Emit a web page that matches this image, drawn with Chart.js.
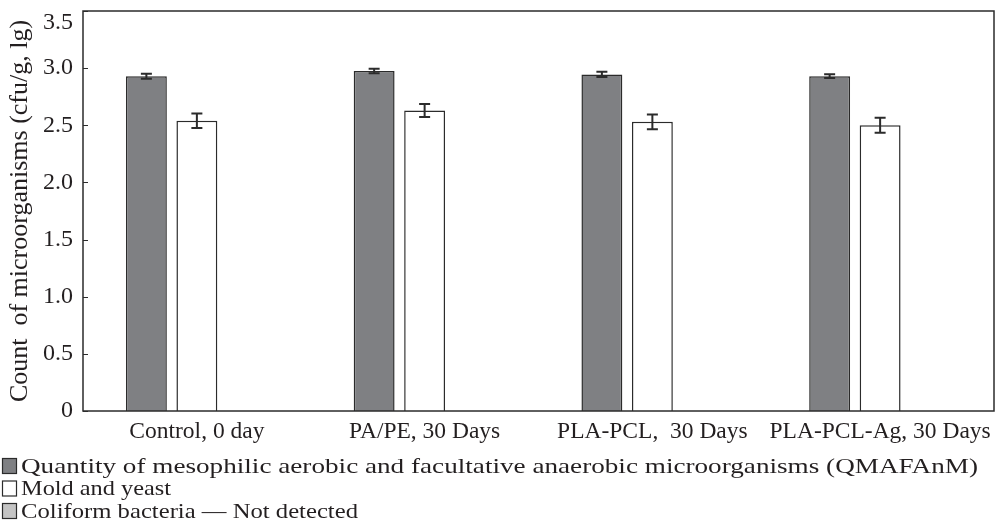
<!DOCTYPE html>
<html>
<head>
<meta charset="utf-8">
<script src="https://cdn.jsdelivr.net/npm/chart.js@4/dist/chart.umd.min.js"></script>
<style>
html,body{margin:0;padding:0;background:#fff;}
#wrap{width:995px;height:530px;position:relative;}
</style>
</head>
<body>
<div id="wrap"><canvas id="c" width="995" height="530"></canvas></div>
<script>
const categories = ["Control, 0 day", "PA/PE, 30 Days", "PLA-PCL,  30 Days", "PLA-PCL-Ag, 30 Days"];
const seriesNames = ["Quantity of mesophilic aerobic and facultative anaerobic microorganisms (QMAFAnM)", "Mold and yeast", "Coliform bacteria \u2014 Not detected"];
const qmafanm = [2.93, 2.975, 2.945, 2.93];
const qmafanmErr = [0.022, 0.02, 0.023, 0.016];
const moldYeast = [2.54, 2.63, 2.53, 2.50];
const moldYeastErr = [0.064, 0.057, 0.064, 0.066];
const coliform = [null, null, null, null];
const yTicks = [0, 0.5, 1.0, 1.5, 2.0, 2.5, 3.0, 3.5];
const yTickLabels = ["0", "0.5", "1.0", "1.5", "2.0", "2.5", "3.0", "3.5"];
const yTitle = "Count  of microorganisms (cfu/g, lg)";

const FONT = "'Liberation Serif', 'Times New Roman', serif";
const INK = "#2b2b2b";
const TXT = "#231f20";
const fills = ["#7f8083", "#ffffff", "#c4c4c4"];
const legendRowY = [466, 488.5, 511];
const legendTextWidth = [957, 150, 337];

const errorBars = {
  id: 'errorBars',
  afterDatasetsDraw(chart) {
    const ctx = chart.ctx, y = chart.scales.y;
    const errs = [qmafanmErr, moldYeastErr];
    ctx.save();
    ctx.strokeStyle = INK; ctx.lineWidth = 2;
    errs.forEach((err, di) => {
      const meta = chart.getDatasetMeta(di);
      meta.data.forEach((bar, i) => {
        const v = chart.data.datasets[di].data[i];
        if (v == null) return;
        const x = bar.x;
        const yt = y.getPixelForValue(v + err[i]);
        const yb = y.getPixelForValue(v - err[i]);
        const cw = 5.5;
        ctx.beginPath();
        ctx.moveTo(x, yt); ctx.lineTo(x, yb);
        ctx.moveTo(x - cw, yt); ctx.lineTo(x + cw, yt);
        ctx.moveTo(x - cw, yb); ctx.lineTo(x + cw, yb);
        ctx.stroke();
      });
    });
    ctx.restore();
  }
};

const frame = {
  id: 'frame',
  afterDraw(chart) {
    const ctx = chart.ctx, a = chart.chartArea, y = chart.scales.y;
    ctx.save();
    ctx.strokeStyle = INK; ctx.lineWidth = 1.5;
    ctx.strokeRect(a.left, a.top, a.right - a.left, a.bottom - a.top);
    ctx.lineWidth = 1.2;
    ctx.beginPath();
    yTicks.forEach(t => {
      const py = Math.round(y.getPixelForValue(t)) + 0.5;
      ctx.moveTo(a.left, py); ctx.lineTo(a.left + 5, py);
    });
    ctx.stroke();
    // legend
    ctx.font = "22px " + FONT;
    ctx.textBaseline = 'middle';
    ctx.textAlign = 'left';
    seriesNames.forEach((name, i) => {
      const cy = legendRowY[i];
      ctx.fillStyle = fills[i];
      ctx.fillRect(2, cy - 8, 15, 16);
      ctx.strokeStyle = INK; ctx.lineWidth = 1.2;
      ctx.strokeRect(2.5, cy - 7.5, 14, 15);
      const sx = legendTextWidth[i] / ctx.measureText(name).width;
      ctx.save();
      ctx.translate(21, cy + 1);
      ctx.scale(sx, 1);
      ctx.fillStyle = TXT;
      ctx.fillText(name, 0, 0);
      ctx.restore();
    });
    ctx.restore();
  }
};

new Chart(document.getElementById('c'), {
  type: 'bar',
  data: {
    labels: categories,
    datasets: [
      { label: seriesNames[0], data: qmafanm, backgroundColor: fills[0], borderColor: INK, borderWidth: 1.5 },
      { label: seriesNames[1], data: moldYeast, backgroundColor: fills[1], borderColor: INK, borderWidth: 1.5 },
      { label: seriesNames[2], data: coliform, backgroundColor: fills[2], borderColor: INK, borderWidth: 1.5 }
    ]
  },
  options: {
    responsive: false,
    animation: false,
    layout: { padding: { top: 11, right: 1, bottom: 79, left: 0 } },
    datasets: { bar: { categoryPercentage: 0.665, barPercentage: 0.81 } },
    plugins: { legend: { display: false }, tooltip: { enabled: false } },
    scales: {
      x: {
        grid: { display: false, drawTicks: false },
        border: { display: false },
        ticks: { color: TXT, font: { family: FONT, size: 23.5 }, padding: 7, maxRotation: 0, autoSkip: false },
        afterFit(s) { s.height = 40; s.paddingLeft = 0; s.paddingRight = 0; }
      },
      y: {
        min: 0, max: 3.5,
        afterBuildTicks(s) { s.ticks = yTicks.map(v => ({ value: v })); },
        grid: { display: false, drawTicks: false },
        border: { display: false },
        ticks: { color: TXT, font: { family: FONT, size: 24, lineHeight: 1.0 }, padding: 10,
                 callback: (v) => {
                   const lbl = yTickLabels[yTicks.indexOf(v)];
                   return v === yTicks[yTicks.length - 1] ? ["", lbl] : lbl;
                 } },
        title: { display: true, text: yTitle, color: TXT, font: { family: FONT, size: 26 }, padding: { top: 5, bottom: 0 } },
        afterFit(s) { s.width = 83; s.paddingTop = 0; s.paddingBottom = 0; }
      }
    }
  },
  plugins: [errorBars, frame]
});
</script>
</body>
</html>
